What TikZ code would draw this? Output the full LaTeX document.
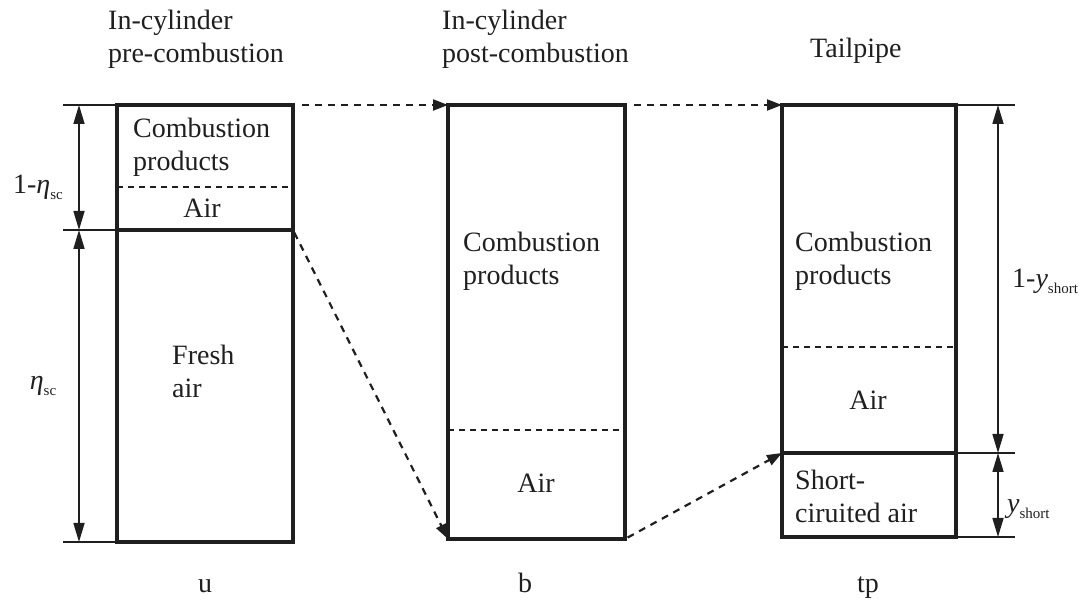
\documentclass[tikz,border=0pt]{standalone}
\usepackage{fontspec}
\setmainfont{Liberation Serif}
\usetikzlibrary{arrows.meta}
% small lowered subscript used in the dimension labels
\newcommand{\lowsub}[1]{\raisebox{-0.45ex}{\fontsize{15}{15}\selectfont #1}}
\begin{document}
\begin{tikzpicture}[x=1pt,y=-1pt,
  font=\fontsize{28}{33}\selectfont,
  color=black!88,
  cyl/.style={draw, line width=3.4pt, inner sep=0pt, outer sep=0pt},
  ext/.style={line width=1.6pt},
  thickline/.style={line width=3.2pt},
  dim/.style={line width=1.6pt, {Triangle[length=19pt,width=11pt]}-{Triangle[length=19pt,width=11pt]}},
  flow/.style={line width=2.2pt, dash pattern=on 7pt off 6pt, -{Triangle[length=15pt,width=11pt]}},
  divider/.style={line width=1.3pt, dash pattern=on 6pt off 5pt},
  txt/.style={inner sep=0pt, align=left, anchor=north west},
  word/.style={inner sep=0pt, anchor=base}]
\useasboundingbox (0,0) rectangle (1088,609);

% ---- the three gas columns ----
\node[cyl, minimum width=176pt, minimum height=437pt] (u)  at (205,323.5) {};
\node[cyl, minimum width=177pt, minimum height=434pt] (b)  at (536.5,322) {};
\node[cyl, minimum width=174pt, minimum height=432pt] (tp) at (869,321) {};

% ---- column u: extension lines, interface, dimensions ----
\coordinate (uL1) at (63,105);
\coordinate (uL2) at (63,230);
\coordinate (uL3) at (63,542);
\coordinate (uSl) at (117,230);
\coordinate (uSr) at (293,230);
\coordinate (uDl) at (117,187);
\coordinate (uDr) at (293,187);
\coordinate (uA1) at (79,105);
\coordinate (uA2) at (79,230);
\coordinate (uA3) at (79,542);
\draw[ext] (uL1) -- (u.north west);
\draw[ext] (uL2) -- (uSl);
\draw[ext] (uL3) -- (u.south west);
\draw[thickline] (uSl) -- (uSr);
\draw[divider] (uDl) -- (uDr);
\draw[dim] (uA1) -- (uA2);
\draw[dim] (uA2) -- (uA3);
\node[word] (etaA) at (38,194) {1-\textit{η}\lowsub{sc}};
\node[word] (etaB) at (43,390) {\textit{η}\lowsub{sc}};

% ---- column b: interface ----
\coordinate (bDl) at (448,430);
\coordinate (bDr) at (625,430);
\draw[divider] (bDl) -- (bDr);

% ---- column tp: extension lines, interfaces, dimensions ----
\coordinate (tR1) at (1015,105);
\coordinate (tR2) at (1015,453);
\coordinate (tR3) at (1015,537);
\coordinate (tSl) at (782,453);
\coordinate (tSr) at (956,453);
\coordinate (tDl) at (782,347);
\coordinate (tDr) at (956,347);
\coordinate (tA1) at (998,105);
\coordinate (tA2) at (998,453);
\coordinate (tA3) at (998,537);
\draw[ext] (tp.north east) -- (tR1);
\draw[ext] (tSr) -- (tR2);
\draw[ext] (tp.south east) -- (tR3);
\draw[thickline] (tSl) -- (tSr);
\draw[divider] (tDl) -- (tDr);
\draw[dim] (tA1) -- (tA2);
\draw[dim] (tA2) -- (tA3);
\node[word, anchor=base west] (ysA) at (1012,288) {1-\textit{y}\lowsub{short}};
\node[word, anchor=base west] (ysB) at (1007,513) {\textit{y}\lowsub{short}};

% ---- flow connectors ----
\draw[flow, shorten <=9pt] (u.north east) -- (b.north west);
\draw[flow, shorten <=9pt] (b.north east) -- (tp.north west);
\draw[flow, shorten <=3pt] (uSr) -- (b.south west);
\draw[flow, shorten <=3pt] (b.south east) -- (tSl);

% ---- headings ----
\node[txt] (h1) at (108,10) {In-cylinder\\pre-combustion};
\node[txt] (h2) at (442,10) {In-cylinder\\post-combustion};
\node[txt] (h3) at (810,38) {Tailpipe};

% ---- contents ----
\node[txt] (u1) at (133,118) {Combustion\\products};
\node[word] (u2) at (202,218) {Air};
\node[txt] (u3) at (172,345) {Fresh\\air};
\node[txt] (b1) at (463,232) {Combustion\\products};
\node[word] (b2) at (536,493) {Air};
\node[txt] (t1) at (795,232) {Combustion\\products};
\node[word] (t2) at (868,410) {Air};
\node[txt] (t3) at (795,470) {Short-\\ciruited air};

% ---- column labels ----
\node[word] (lu)  at (205,592) {u};
\node[word] (lb)  at (525,592) {b};
\node[word] (ltp) at (868,592) {tp};
\end{tikzpicture}
\end{document}
